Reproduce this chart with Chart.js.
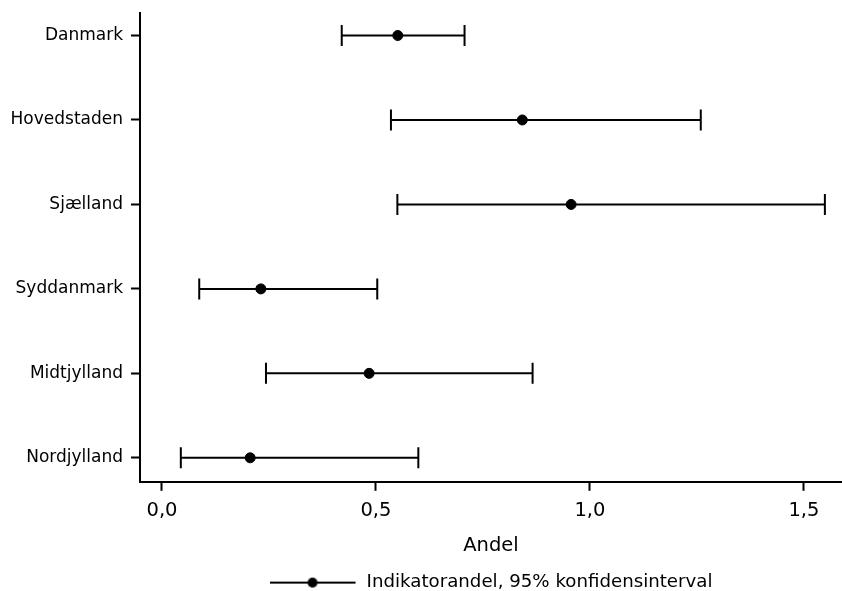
<!DOCTYPE html>
<html>
<head>
<meta charset="utf-8">
<script src="https://cdn.jsdelivr.net/npm/chart.js@4"></script>
<style>
    body { margin: 0; background: #fff; }
    #wrap { width: 842px; height: 591px; }
</style>
</head>
<body>
<div id="wrap">
    <canvas id="ciChart" width="842" height="591"></canvas>
</div>
<script>
// regions, top to bottom
const regions = ["Danmark", "Hovedstaden", "Sjælland", "Syddanmark", "Midtjylland", "Nordjylland"];
// indicator share (point) and 95% CI bounds
const shares = [0.551, 0.842, 0.956, 0.231, 0.484, 0.206];
const lower = [0.420, 0.535, 0.550, 0.087, 0.243, 0.044];
const upper = [0.707, 1.259, 1.549, 0.503, 0.866, 0.599];
const xTicks = [0, 0.5, 1.0, 1.5];

const FONT = "'DejaVu Sans', sans-serif";
const fmt = (v) => v.toFixed(1).replace('.', ',');

// one line dataset per interval, caps drawn as rotated 'line' points
const intervalSets = regions.map((name, i) => ({
    type: 'line',
    label: name + ' CI',
    data: [{ x: lower[i], y: i }, { x: upper[i], y: i }],
    borderColor: '#000',
    borderWidth: 2,
    pointStyle: 'line',
    rotation: 90,
    pointRadius: 10.5,
    pointBorderWidth: 2,
    pointBorderColor: '#000',
    showLine: true,
    fill: false,
}));

const pointSet = {
    type: 'scatter',
    label: 'Indikatorandel, 95% konfidensinterval',
    data: shares.map((v, i) => ({ x: v, y: i })),
    backgroundColor: '#000',
    borderColor: '#000',
    pointRadius: 5,
    pointStyle: 'circle',
};

// legend symbol: line with a dot in the middle
function legendSymbol() {
    const c = document.createElement('canvas');
    c.width = 88;
    c.height = 12;
    const g = c.getContext('2d');
    g.strokeStyle = '#000';
    g.lineWidth = 2;
    g.beginPath();
    g.moveTo(0, 6);
    g.lineTo(86, 6);
    g.stroke();
    g.fillStyle = '#000';
    g.beginPath();
    g.arc(43, 6, 5, 0, Math.PI * 2);
    g.fill();
    return c;
}
const symbol = legendSymbol();

new Chart(document.getElementById('ciChart').getContext('2d'), {
    type: 'scatter',
    data: { datasets: [...intervalSets, pointSet] },
    options: {
        responsive: false,
        animation: false,
        layout: {
            autoPadding: false,
            padding: { top: 12.5, right: 0, bottom: -10.7, left: 0 },
        },
        plugins: {
            tooltip: { enabled: false },
            legend: {
                position: 'bottom',
                fullSize: false,
                labels: {
                    usePointStyle: true,
                    pointStyleWidth: 88,
                    padding: 4,
                    color: '#000',
                    font: { family: FONT, size: 18.2 },
                    generateLabels: () => [{
                        text: pointSet.label,
                        pointStyle: symbol,
                        fillStyle: '#000',
                        strokeStyle: '#000',
                        lineWidth: 0,
                        hidden: false,
                        datasetIndex: regions.length,
                    }],
                },
            },
        },
        scales: {
            x: {
                type: 'linear',
                min: -0.0514,
                max: 1.589,
                afterBuildTicks: (scale) => {
                    scale.ticks = xTicks.map((v) => ({ value: v }));
                },
                afterFit: (scale) => {
                    scale.height = 87.7;
                    scale.paddingLeft = 0;
                    scale.paddingRight = 0;
                },
                ticks: {
                    color: '#000',
                    padding: 8,
                    maxRotation: 0,
                    font: { family: FONT, size: 19.5 },
                    callback: (v) => fmt(v),
                },
                grid: {
                    drawOnChartArea: false,
                    drawTicks: true,
                    tickLength: 9,
                    tickWidth: 2,
                    tickColor: '#000',
                },
                border: { display: true, color: '#000', width: 2 },
                title: {
                    display: true,
                    text: 'Andel',
                    color: '#000',
                    font: { family: FONT, size: 19.5 },
                    padding: { top: 0, bottom: 12 },
                },
            },
            y: {
                type: 'linear',
                reverse: true,
                min: -0.2725,
                max: 5.284,
                afterBuildTicks: (scale) => {
                    scale.ticks = regions.map((r, i) => ({ value: i }));
                },
                afterFit: (scale) => {
                    scale.width = 140;
                    scale.paddingTop = 0;
                    scale.paddingBottom = 0;
                },
                ticks: {
                    color: '#000',
                    padding: 8,
                    font: { family: FONT, size: 17 },
                    callback: (v) => regions[v],
                },
                grid: {
                    drawOnChartArea: false,
                    drawTicks: true,
                    tickLength: 9,
                    tickWidth: 2,
                    tickColor: '#000',
                },
                border: { display: true, color: '#000', width: 2 },
            },
        },
    },
});
</script>
</body>
</html>
